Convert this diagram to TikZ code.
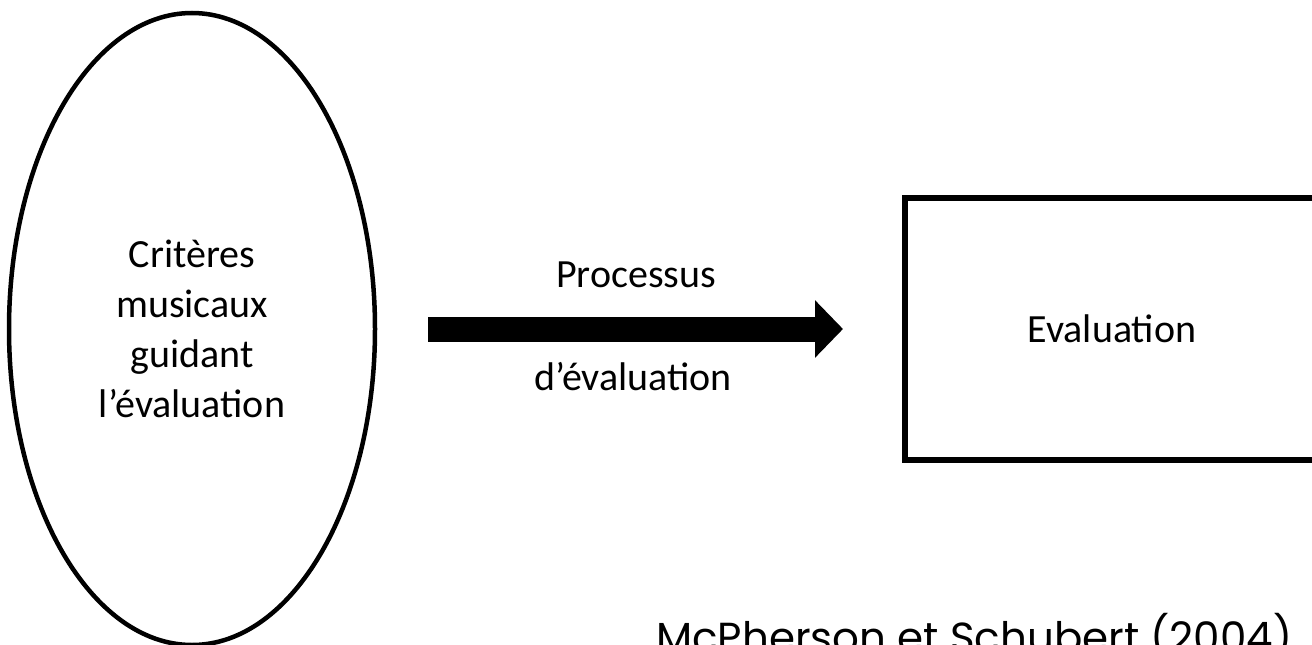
\documentclass[tikz,border=0pt]{standalone}
\usepackage{fontspec}
\setmainfont{Carlito}
\newfontfamily\citefont{Poppins}
\usepackage{tikz}
\usetikzlibrary{shapes,arrows.meta}

\begin{document}
\begin{tikzpicture}
[x=1pt,y=-1pt]
\tikzset{
	critere/.style = {ellipse, draw, line width=4.5pt, minimum width=366pt, minimum height=632pt, inner sep=0, align=center, font=\fontsize{40}{50}\selectfont},
	resultat/.style = {rectangle, draw, line width=6pt, minimum width=415pt, minimum height=262pt, font=\fontsize{40}{48}\selectfont},
	etiquette/.style = {anchor=base, inner sep=0, font=\fontsize{40}{48}\selectfont},
	fleche/.style = {line width=25pt, -{Triangle[length=28pt,width=56pt]}}
}
\useasboundingbox (0,0) rectangle (1312,645);

\node(crit) [critere] at (192,329) {Critères\\musicaux\\guidant\\l’évaluation};
\node(eval) [resultat] at (1112,329) {Evaluation};

\coordinate(depart) at (428,329);
\coordinate(arrivee) at (843,329);
\draw [fleche] (depart) to (arrivee);

\node(proc) [etiquette] at (636,287) {Processus};
\node(deval) [etiquette] at (633,390) {d’évaluation};

\node(source) [anchor=base west, inner sep=0, font=\citefont\fontsize{42}{50}\selectfont] at (656,652) {McPherson et Schubert (2004)};

\end{tikzpicture}
\end{document}
